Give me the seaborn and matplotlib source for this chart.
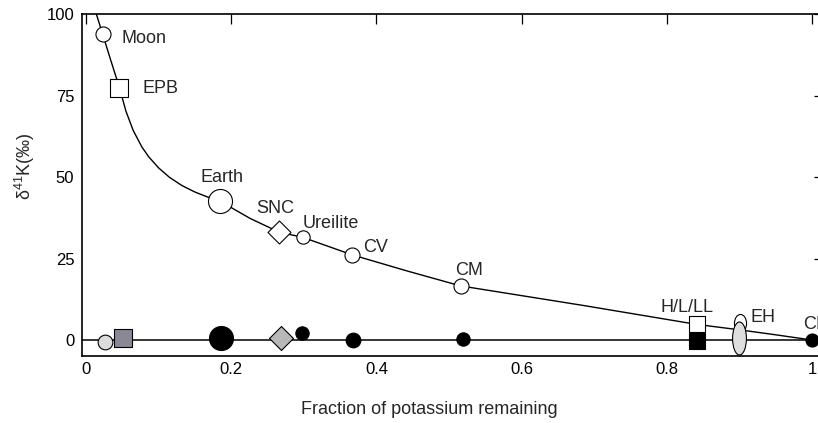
import numpy as np
import matplotlib
matplotlib.use("Agg")
import matplotlib.pyplot as plt
import seaborn as sns
from matplotlib.path import Path
from matplotlib.transforms import Affine2D

# ---------------- data ----------------
names = ["Moon", "EPB", "Earth", "SNC", "Ureilite", "CV", "CM", "H/L/LL", "EH", "CI"]

# upper (open) symbols: position on the fractionation curve
f_top = [0.023, 0.046, 0.185, 0.266, 0.299, 0.367, 0.516, 0.841, 0.901]
d_top = [93.8, 77.2, 42.6, 33.1, 31.5, 26.1, 16.6, 4.8, 5.2]

# lower (filled) symbols: measured values
f_bot = [0.0266, 0.051, 0.1855, 0.269, 0.2975, 0.368, 0.519, 0.842, 0.899, 1.0]
d_bot = [-0.5, 0.6, 0.6, 0.5, 2.2, 0.1, 0.3, -0.4, 0.5, 0.0]

# curve
curve_f = [0.0138, 0.023, 0.0344, 0.0464, 0.055, 0.065, 0.077, 0.0864, 0.100,
           0.115, 0.132, 0.150, 0.167, 0.1846, 0.226, 0.266, 0.2985, 0.367,
           0.442, 0.516, 0.685, 0.841, 0.901, 0.95, 1.0]
curve_d = [100.3, 93.8, 85.6, 77.2, 70.2, 64.3, 59.2, 56.2, 52.8,
           49.9, 47.4, 45.4, 43.9, 42.6, 37.3, 33.1, 31.5, 26.1,
           21.2, 16.6, 10.6, 4.8, 3.1, 1.6, 0.0]

xticks = [0, 0.2, 0.4, 0.6, 0.8, 1.0]
xticklabels = ["0", "0.2", "0.4", "0.6", "0.8", "1"]
yticks = [0, 25, 50, 75, 100]
yticklabels = ["0", "25", "50", "75", "100"]

# ---------------- styles ----------------
ell_open = Affine2D().scale(0.67, 1.0).transform_path(Path.unit_circle())
ell_gray = Affine2D().scale(0.42, 1.0).transform_path(Path.unit_circle())

top_markers = ["o", "s", "o", "D", "o", "o", "o", "s", ell_open]
top_sizes = [117, 187, 299, 137, 92, 117, 117, 117, 169]

bot_markers = ["o", "s", "o", "D", "o", "o", "o", "s", ell_gray, "o"]
bot_sizes = [112, 162, 299, 149, 92, 112, 92, 128, 564, 88]
bot_colors = ["#dcdcdc", "#8b8896", "black", "#b8b8b8", "black", "black",
              "black", "black", "#dedede", "black"]

# label offsets in points (left edge, baseline) relative to the symbol
label_off = [(13.9, -6.3), (16.8, -3.6), (-14.4, 13.9), (-16.8, 13.9), (-0.5, 6.5),
             (7.6, 2.4), (-4.1, 7.9), (-25.7, 9.1), (7.2, 0.5), (-6.5, 7.9)]

sns.set_style("white")
plt.rcParams["font.family"] = ["Liberation Sans", "DejaVu Sans"]
plt.rcParams["mathtext.fontset"] = "custom"
plt.rcParams["mathtext.rm"] = "Liberation Sans"
plt.rcParams["mathtext.it"] = "Liberation Sans:italic"

fig = plt.figure(figsize=(8.18, 4.23), dpi=100)
ax = fig.add_axes([82 / 818, 1 - 356 / 423, 742 / 818, 342 / 423])

# zero line
ax.axhline(0, color="black", lw=1.1, zorder=1)

# curve
sns.lineplot(x=curve_f, y=curve_d, ax=ax, color="black", lw=1.0,
             sort=False, estimator=None, zorder=2)

# open symbols on the curve
for f, d, m, s in zip(f_top, d_top, top_markers, top_sizes):
    sns.scatterplot(x=[f], y=[d], ax=ax, marker=m, s=s, color="white",
                    edgecolor="black", linewidth=0.8, zorder=3)

# filled symbols
for f, d, m, s, c in zip(f_bot, d_bot, bot_markers, bot_sizes, bot_colors):
    sns.scatterplot(x=[f], y=[d], ax=ax, marker=m, s=s, color=c,
                    edgecolor="black", linewidth=0.8, zorder=4)

# labels
anchor_f = f_top + [f_bot[-1]]
anchor_d = d_top + [d_bot[-1]]
for name, f, d, off in zip(names, anchor_f, anchor_d, label_off):
    ax.annotate(name, (f, d), xytext=off, textcoords="offset points",
                ha="left", va="baseline", fontsize=13, zorder=5)

ax.set_xlim(-0.0055, 1.0165)
ax.set_ylim(-4.9, 100)
ax.set_xticks(xticks)
ax.set_xticklabels(xticklabels)
ax.set_yticks(yticks)
ax.set_yticklabels(yticklabels)
ax.tick_params(direction="in", length=7, width=0.9, top=True, right=True,
               labelsize=12, colors="black")
ax.tick_params(axis="x", pad=4.5)
ax.tick_params(axis="y", pad=5.5)
for sp in ax.spines.values():
    sp.set_visible(True)
    sp.set_linewidth(1.2)
    sp.set_color("black")

ax.set_xlabel("Fraction of potassium remaining", fontsize=13)
ax.xaxis.set_label_coords(0.4677, -0.1316)
ax.set_ylabel(r"$\mathregular{\delta^{41}}$K(‰)", fontsize=13)
ax.yaxis.set_label_coords(-0.061, 0.556)

fig.savefig("out.png", dpi=100)
